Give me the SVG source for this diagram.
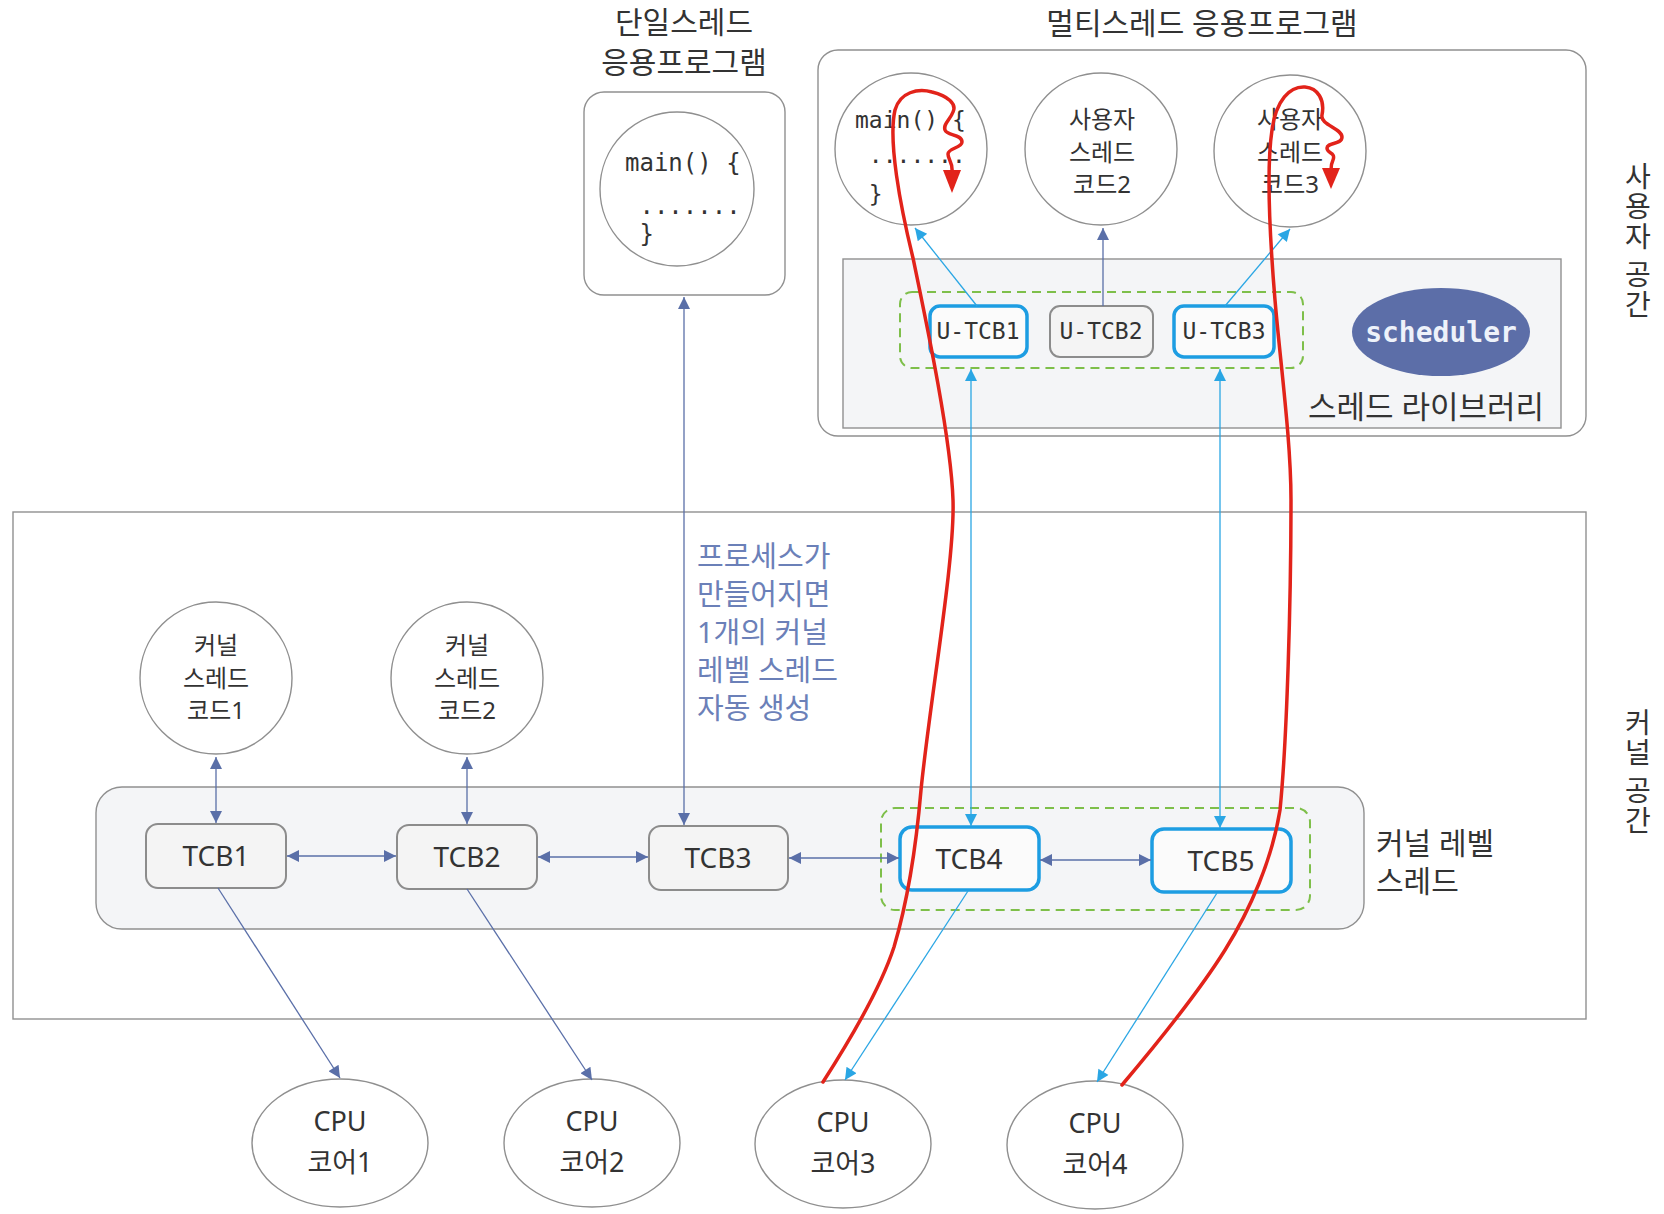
<svg xmlns="http://www.w3.org/2000/svg" width="1664" height="1214" viewBox="0 0 1664 1214">
<defs>
<style>
.box{fill:none;stroke:#909090;stroke-width:1.4}
.lib{fill:#f4f5f7;stroke:#909090;stroke-width:1.4}
.circ{fill:#fff;stroke:#8f8f8f;stroke-width:1.4}
.tcb{fill:#f4f4f4;stroke:#8c8c8c;stroke-width:2}
.tcbh{fill:#fbfbfb;stroke:#1d9de2;stroke-width:3.5}
.grp{fill:none;stroke:#7ebf4a;stroke-width:2;stroke-dasharray:9 6}
.k{font-family:"Noto Sans","Noto Sans CJK KR",sans-serif;fill:#333;text-anchor:middle}
.v{font-family:"Noto Sans CJK KR","Noto Sans",sans-serif;fill:#333;writing-mode:vertical-rl;font-size:28px;letter-spacing:2px}
.m{font-family:"DejaVu Sans Mono","Liberation Mono",monospace;fill:#333}
.blue{font-family:"Noto Sans","Noto Sans CJK KR",sans-serif;fill:#6b80b8;font-size:29px}
.sl{stroke:#5a6fa8;stroke-width:1.3;fill:none}
.lb{stroke:#2aa6e4;stroke-width:1.3;fill:none}
.red{stroke:#e2231a;stroke-width:3.5;fill:none;stroke-linecap:round}
</style>
<marker id="as" viewBox="0 0 10 10" refX="10" refY="5" markerWidth="15" markerHeight="12" markerUnits="userSpaceOnUse" orient="auto-start-reverse"><path d="M0,0 L10,5 L0,10 z" fill="#5a6fa8"/></marker>
<marker id="al" viewBox="0 0 10 10" refX="10" refY="5" markerWidth="15" markerHeight="12" markerUnits="userSpaceOnUse" orient="auto-start-reverse"><path d="M0,0 L10,5 L0,10 z" fill="#2aa6e4"/></marker>
</defs>
<rect width="1664" height="1214" fill="#fff"/>

<!-- containers -->
<g id="single-app">
<rect class="box" x="584" y="92" width="201" height="203" rx="20"/>
<text class="k" font-size="30" x="684" y="33">단일스레드</text>
<text class="k" font-size="30" x="684" y="73">응용프로그램</text>
</g>
<g id="multi-app">
<rect class="box" x="818" y="50" width="768" height="386" rx="20"/>
<text class="k" font-size="30" x="1202" y="34">멀티스레드 응용프로그램</text>
</g>
<g id="thread-library">
<rect class="lib" x="843" y="259" width="718" height="169"/>
<text class="k" font-size="31" x="1426" y="418">스레드 라이브러리</text>
</g>
<g id="user-tcb-group"><rect class="grp" x="900" y="292" width="403" height="76" rx="12"/></g>
<g id="kernel-space">
<rect class="box" x="13" y="512" width="1573" height="507"/>
</g>
<g id="kernel-level-thread">
<rect class="lib" x="96" y="787" width="1268" height="142" rx="26"/>
<text class="k" font-size="30" x="1376" y="854" style="text-anchor:start">커널 레벨</text>
<text class="k" font-size="30" x="1376" y="892" style="text-anchor:start">스레드</text>
</g>
<g id="kernel-tcb-group"><rect class="grp" x="881" y="808" width="429" height="102" rx="14"/></g>

<g id="label-user-space">
<text class="v" x="1638" y="162">사용자 공간</text>
</g>
<g id="label-kernel-space">
<text class="v" x="1638" y="708">커널 공간</text>
</g>

<!-- nodes -->
<g id="single-main">
<circle class="circ" cx="677" cy="189" r="77"/>
<text class="m" font-size="24" x="625" y="171" xml:space="preserve">main() {</text>
<text class="m" font-size="24" x="625" y="214" xml:space="preserve"> .......</text>
<text class="m" font-size="24" x="625" y="242" xml:space="preserve"> }</text>
</g>
<g id="multi-main">
<circle class="circ" cx="911" cy="149" r="76"/>
<text class="m" font-size="23" x="855" y="128" xml:space="preserve">main() {</text>
<text class="m" font-size="23" x="855" y="163" xml:space="preserve"> .......</text>
<text class="m" font-size="23" x="855" y="202" xml:space="preserve"> }</text>
</g>
<g id="user-code2">
<circle class="circ" cx="1101" cy="149" r="76"/>
<text class="k" font-size="24" x="1102" y="128">사용자</text>
<text class="k" font-size="24" x="1102" y="161">스레드</text>
<text class="k" font-size="24" x="1102" y="193">코드2</text>
</g>
<g id="user-code3">
<circle class="circ" cx="1290" cy="151" r="76"/>
<text class="k" font-size="24" x="1290" y="128">사용자</text>
<text class="k" font-size="24" x="1290" y="161">스레드</text>
<text class="k" font-size="24" x="1290" y="193">코드3</text>
</g>
<g id="u-tcb1">
<rect class="tcbh" x="930" y="306" width="97" height="51" rx="10"/>
<text class="m" font-size="23" x="978" y="339" text-anchor="middle">U-TCB1</text>
</g>
<g id="u-tcb2">
<rect class="tcb" x="1050" y="306" width="103" height="51" rx="10"/>
<text class="m" font-size="23" x="1101" y="339" text-anchor="middle">U-TCB2</text>
</g>
<g id="u-tcb3">
<rect class="tcbh" x="1174" y="306" width="100" height="51" rx="10"/>
<text class="m" font-size="23" x="1224" y="339" text-anchor="middle">U-TCB3</text>
</g>
<g id="scheduler">
<ellipse cx="1441" cy="332" rx="89" ry="44" fill="#5c6ea8"/>
<text class="m" font-size="28" font-weight="bold" x="1441" y="342" text-anchor="middle" style="fill:#eef2fa">scheduler</text>
</g>

<g id="kernel-code1">
<circle class="circ" cx="216" cy="678" r="76"/>
<text class="k" font-size="24" x="216" y="654">커널</text>
<text class="k" font-size="24" x="216" y="687">스레드</text>
<text class="k" font-size="24" x="216" y="719">코드1</text>
</g>
<g id="kernel-code2">
<circle class="circ" cx="467" cy="678" r="76"/>
<text class="k" font-size="24" x="467" y="654">커널</text>
<text class="k" font-size="24" x="467" y="687">스레드</text>
<text class="k" font-size="24" x="467" y="719">코드2</text>
</g>

<g id="tcb1"><rect class="tcb" x="146" y="824" width="140" height="64" rx="12"/><text class="k" font-size="28" x="216" y="866">TCB1</text></g>
<g id="tcb2"><rect class="tcb" x="397" y="825" width="140" height="64" rx="12"/><text class="k" font-size="28" x="467" y="867">TCB2</text></g>
<g id="tcb3"><rect class="tcb" x="649" y="826" width="139" height="64" rx="12"/><text class="k" font-size="28" x="718" y="868">TCB3</text></g>
<g id="tcb4"><rect class="tcbh" x="900" y="827" width="139" height="63" rx="12"/><text class="k" font-size="28" x="969" y="869">TCB4</text></g>
<g id="tcb5"><rect class="tcbh" x="1152" y="829" width="139" height="63" rx="12"/><text class="k" font-size="28" x="1221" y="871">TCB5</text></g>

<g id="cpu1"><ellipse class="circ" cx="340" cy="1143" rx="88" ry="64"/><text class="k" font-size="27" x="340" y="1131">CPU</text><text class="k" font-size="27" x="340" y="1172">코어1</text></g>
<g id="cpu2"><ellipse class="circ" cx="592" cy="1143" rx="88" ry="64"/><text class="k" font-size="27" x="592" y="1131">CPU</text><text class="k" font-size="27" x="592" y="1172">코어2</text></g>
<g id="cpu3"><ellipse class="circ" cx="843" cy="1144" rx="88" ry="64"/><text class="k" font-size="27" x="843" y="1132">CPU</text><text class="k" font-size="27" x="843" y="1173">코어3</text></g>
<g id="cpu4"><ellipse class="circ" cx="1095" cy="1145" rx="88" ry="64"/><text class="k" font-size="27" x="1095" y="1133">CPU</text><text class="k" font-size="27" x="1095" y="1174">코어4</text></g>

<g id="note">
<text class="blue" x="697" y="567">프로세스가</text>
<text class="blue" x="697" y="605">만들어지면</text>
<text class="blue" x="697" y="643">1개의 커널</text>
<text class="blue" x="697" y="681">레벨 스레드</text>
<text class="blue" x="697" y="719">자동 생성</text>
</g>

<!-- connectors -->
<g id="connectors">
<path class="sl" d="M216,757 L216,823" marker-start="url(#as)" marker-end="url(#as)"/>
<path class="sl" d="M467,757 L467,824" marker-start="url(#as)" marker-end="url(#as)"/>
<path class="sl" d="M287,856 L396,856" marker-start="url(#as)" marker-end="url(#as)"/>
<path class="sl" d="M538,857 L648,857" marker-start="url(#as)" marker-end="url(#as)"/>
<path class="sl" d="M789,858 L899,858" marker-start="url(#as)" marker-end="url(#as)"/>
<path class="sl" d="M1040,860 L1151,860" marker-start="url(#as)" marker-end="url(#as)"/>
<path class="sl" d="M684,297 L684,825" marker-start="url(#as)" marker-end="url(#as)"/>
<path class="sl" d="M1103,306 L1103,228" marker-end="url(#as)"/>
<path class="sl" d="M218,888 L340,1078" marker-end="url(#as)"/>
<path class="sl" d="M467,889 L592,1080" marker-end="url(#as)"/>
<path class="lb" d="M977,306 L915,228" marker-end="url(#al)"/>
<path class="lb" d="M1225,306 L1290,229" marker-end="url(#al)"/>
<path class="lb" d="M971,826 L971,369" marker-start="url(#al)" marker-end="url(#al)"/>
<path class="lb" d="M1220,828 L1220,369" marker-start="url(#al)" marker-end="url(#al)"/>
<path class="lb" d="M968,891 L845,1080" marker-end="url(#al)"/>
<path class="lb" d="M1217,893 L1097,1082" marker-end="url(#al)"/>
<path class="red" d="M823,1082 C850,1040 880,990 894,947 C905,910 915,860 921,790 C930,700 955,560 953,500 C951,440 928,330 913,258 C900,205 888,140 895,110 C900,92 918,88 932,92 C948,96 957,104 953,112 C950,120 943,124 945,130 C947,136 962,134 962,142 C962,148 948,148 948,154 C948,160 953,162 952,172"/>
<polygon points="943,170 961,170 952,193" fill="#e2231a"/>
<path class="red" d="M1122,1085 C1160,1040 1200,990 1225,950 C1250,910 1272,860 1280,810 C1287,740 1291,600 1291,500 C1291,440 1280,360 1275,300 C1270,240 1266,170 1272,130 C1276,100 1290,86 1305,87 C1318,88 1325,100 1322,115 C1320,125 1342,128 1342,137 C1342,145 1327,142 1327,148 C1327,154 1336,152 1333,160 C1331,164 1331,166 1331,170"/>
<polygon points="1322,168 1340,168 1331,189" fill="#e2231a"/>
</g>
</svg>
